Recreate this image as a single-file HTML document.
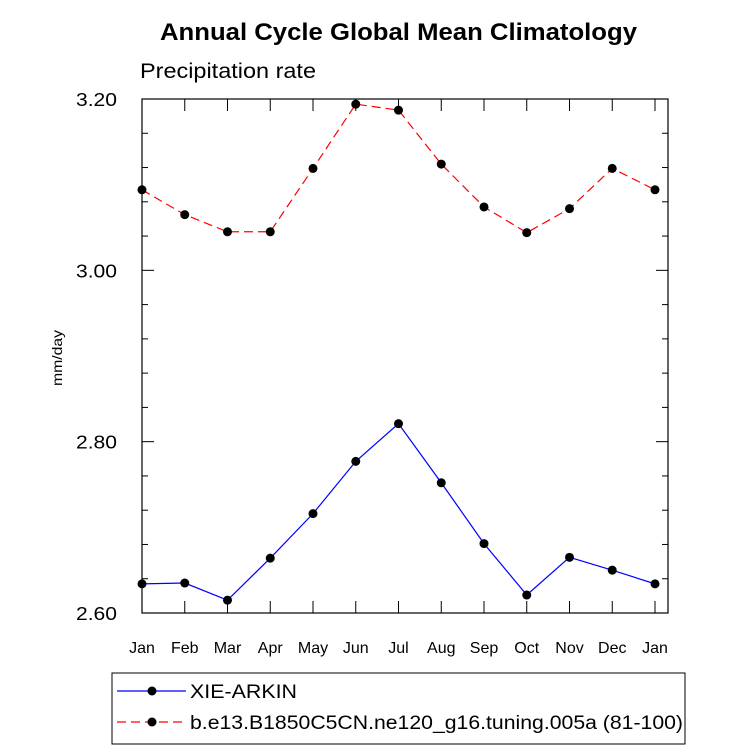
<!DOCTYPE html>
<html><head><meta charset="utf-8"><style>
body{margin:0;background:#fff;}
svg text{font-family:"Liberation Sans",Arial,sans-serif;}
</style></head><body>
<svg id="chart" width="733" height="748" xmlns="http://www.w3.org/2000/svg">
<text x="160" y="40" font-size="24" font-weight="bold" textLength="477" lengthAdjust="spacingAndGlyphs">Annual Cycle Global Mean Climatology</text>
<text x="140" y="78" font-size="21" textLength="176" lengthAdjust="spacingAndGlyphs">Precipitation rate</text>
<text transform="translate(62,358) rotate(-90)" text-anchor="middle" font-size="14" textLength="56" lengthAdjust="spacingAndGlyphs">mm/day</text>
<g id="axes"></g>
<g id="series"></g>
<rect x="112" y="673" width="573" height="71" fill="none" stroke="#000" stroke-width="1"/>
<g>
<line x1="117" y1="691" x2="186" y2="691" stroke="#0000ff" stroke-width="1.2"/>
<circle cx="152" cy="691" r="4.5" fill="#000"/>
<text x="190" y="698" font-size="19" textLength="107" lengthAdjust="spacingAndGlyphs">XIE-ARKIN</text></g>
<g>
<line x1="117" y1="722" x2="186" y2="722" stroke="#ff0000" stroke-width="1.2" stroke-dasharray="9,5"/>
<circle cx="152" cy="722" r="4.5" fill="#000"/>
<text x="190" y="729" font-size="19" textLength="493" lengthAdjust="spacingAndGlyphs">b.e13.B1850C5CN.ne120_g16.tuning.005a (81-100)</text></g>
</svg>
<script>
const months=["Jan","Feb","Mar","Apr","May","Jun","Jul","Aug","Sep","Oct","Nov","Dec","Jan"];
const obsValues=[2.634,2.635,2.615,2.664,2.716,2.777,2.821,2.752,2.681,2.621,2.665,2.650,2.634];
const modelValues=[3.094,3.065,3.045,3.045,3.119,3.194,3.187,3.124,3.074,3.044,3.072,3.119,3.094];
const yTicks=[2.60,2.80,3.00,3.20];
const yTickLabels=["2.60","2.80","3.00","3.20"];
const NS="http://www.w3.org/2000/svg";
const L=142,R=668,T=99,B=613,x0=142,dx=42.75,ymin=2.6,ymax=3.2;
const xs=i=>x0+i*dx;
const ys=v=>B-(v-ymin)/(ymax-ymin)*(B-T);
function mk(tag,attrs,parent){const e=document.createElementNS(NS,tag);for(const k in attrs)e.setAttribute(k,attrs[k]);parent.appendChild(e);return e;}
const ax=document.getElementById('axes');
const frame=mk('rect',{x:L,y:T,width:R-L,height:B-T,fill:'none',stroke:'#000','stroke-width':1.2},ax);


for(let v=ymin;v<=ymax+1e-9;v+=0.04){const y=ys(v);const major=Math.abs(((v-ymin)/0.2)-Math.round((v-ymin)/0.2))<1e-6;const len=major?12:6;
const t1=mk('line',{x1:L,y1:y,x2:L+len,y2:y,stroke:'#000'},ax);
const t2=mk('line',{x1:R,y1:y,x2:R-len,y2:y,stroke:'#000'},ax);}
yTicks.forEach((v,i)=>{const t=mk('text',{x:L-66,y:ys(v)+7,'font-size':18,textLength:41,lengthAdjust:'spacingAndGlyphs'},ax);t.textContent=yTickLabels[i];
});
months.forEach((m,i)=>{const x=xs(i);
const a=mk('line',{x1:x,y1:B,x2:x,y2:B-12,stroke:'#000'},ax);
const b=mk('line',{x1:x,y1:T,x2:x,y2:T+12,stroke:'#000'},ax);
const t=mk('text',{x:x,y:B+40,'text-anchor':'middle','font-size':16},ax);t.textContent=m;
});
const sg=document.getElementById('series');
function series(vals,color,dash,name){
const p=mk('polyline',{points:vals.map((v,i)=>xs(i)+','+ys(v)).join(' '),fill:'none',stroke:color,'stroke-width':1.2,'stroke-dasharray':dash},sg);

vals.forEach((v,i)=>{const c=mk('circle',{cx:xs(i),cy:ys(v),r:4.5,fill:'#000'},sg);
});}
series(obsValues,'#0000ff','none','xie-arkin');
series(modelValues,'#ff0000','9,5','model');
</script>
</body></html>
